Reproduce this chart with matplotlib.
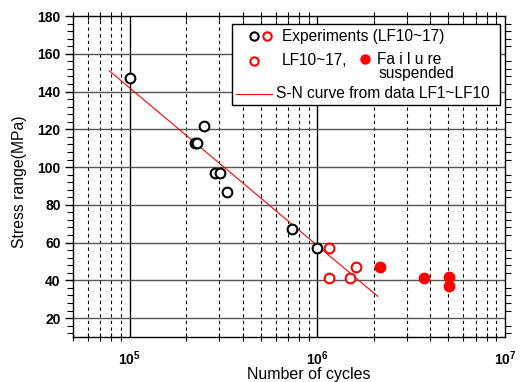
import matplotlib
matplotlib.use("Agg")
import matplotlib.pyplot as plt
from matplotlib.lines import Line2D
from matplotlib.patches import Rectangle
from matplotlib.ticker import FixedLocator, LogLocator, MultipleLocator, NullFormatter

plt.rcParams["font.family"] = ["Liberation Sans", "DejaVu Sans"]
plt.rcParams["mathtext.fontset"] = "custom"
plt.rcParams["mathtext.bf"] = "Liberation Sans:bold"
plt.rcParams["mathtext.rm"] = "Liberation Sans"

W, H = 523, 382

# experiments (black open circles)
exp_cycles = [1.0e5, 2.22e5, 2.3e5, 2.5e5, 2.87e5, 3.05e5, 3.3e5, 7.3e5, 1.0e6]
exp_stress = [147, 113, 113, 122, 97, 97, 87, 67, 57]
# LF10~17 failure (red open circles)
red_open_cycles = [1.15e6, 1.16e6, 1.5e6, 1.6e6]
red_open_stress = [57, 41.5, 41.5, 47]
# LF10~17 suspended (red filled)
suspended_cycles = [2.16e6, 3.7e6, 5.05e6, 5.05e6]
suspended_stress = [47, 41.5, 42, 37]
# S-N curve end points
sn_cycles = [7.8e4, 2.1e6]
sn_stress = [151, 31.5]

y_ticks = [20, 40, 60, 80, 100, 120, 140, 160, 180]
x_ticks = [1e5, 1e6, 1e7]
x_tick_labels = [r"$\mathbf{10^{5}}$", r"$\mathbf{10^{6}}$", r"$\mathbf{10^{7}}$"]


def fx(px):
    return px / W


def fy(py):
    return 1 - py / H


fig = plt.figure(figsize=(W / 100, H / 100), dpi=100)
ax = fig.add_axes([fx(73), fy(337), fx(505) - fx(73), fy(16) - fy(337)])
ax.set_xscale("log")
ax.set_xlim(5e4, 1e7)
ax.set_ylim(10, 180)

# grid
minor_x = [m * 10 ** d for d in (4, 5, 6) for m in range(2, 10) if 5e4 < m * 10 ** d < 1e7]
for xv in minor_x:
    ax.axvline(xv, color="black", lw=0.8, ls=(0, (3, 3)), zorder=1)
for xv in x_ticks[:2]:
    ax.axvline(xv, color="black", lw=1.0, zorder=1)
for yv in y_ticks[:-1]:
    ax.axhline(yv, color="#555555", lw=1.0, zorder=1)

ax.plot(sn_cycles, sn_stress, color="red", lw=0.8, zorder=2)
ax.plot(exp_cycles, exp_stress, ls="none", marker="o", ms=7, mfc="white",
        mec="black", mew=1.5, zorder=3)
ax.plot(red_open_cycles, red_open_stress, ls="none", marker="o", ms=7, mfc="white",
        mec="red", mew=1.5, zorder=3)
ax.plot(suspended_cycles, suspended_stress, ls="none", marker="o", ms=7, mfc="red",
        mec="red", mew=1.5, zorder=3)

ax.xaxis.set_major_locator(FixedLocator(x_ticks))
ax.set_xticklabels(x_tick_labels, fontsize=10)
ax.xaxis.set_minor_locator(LogLocator(base=10, subs=range(2, 10)))
ax.xaxis.set_minor_formatter(NullFormatter())
ax.yaxis.set_major_locator(FixedLocator(y_ticks))
ax.set_yticklabels([str(v) for v in y_ticks], fontsize=10, fontweight="bold")
ax.yaxis.set_minor_locator(MultipleLocator(4))

ax.tick_params(axis="x", which="major", length=0, pad=9)
ax.tick_params(axis="x", which="minor", direction="inout", length=6, width=0.8, top=True)
ax.tick_params(axis="y", which="major", direction="out", length=6, width=1, pad=3)
ax.tick_params(axis="y", which="minor", direction="out", length=4, width=0.8, right=True)
for sp in ax.spines.values():
    sp.set_linewidth(1.0)

fig.text(fx(20), fy(182), "Stress range(MPa)", rotation=90, ha="center", va="center",
         fontsize=11.3)
fig.text(fx(309), fy(374), "Number of cycles", ha="center", va="center", fontsize=11.5)

# legend drawn by hand
fig.add_artist(Rectangle((fx(232), fy(105)), fx(500) - fx(232), fy(24) - fy(105),
                         transform=fig.transFigure, facecolor="white",
                         edgecolor="black", lw=1.0, zorder=5))


def legend_marker(px, py, face, edge):
    fig.add_artist(Line2D([fx(px)], [fy(py)], transform=fig.transFigure, marker="o",
                          ms=6, mfc=face, mec=edge, mew=1.5, zorder=6))


legend_marker(253.7, 36.3, "white", "black")
legend_marker(267.3, 36.3, "white", "red")
legend_marker(253.7, 60.7, "white", "red")
legend_marker(365, 59.3, "red", "red")
fig.add_artist(Line2D([fx(235.7), fx(271.7)], [fy(94), fy(94)], transform=fig.transFigure,
                      color="red", lw=0.8, zorder=6))

fs = 11.2
fig.text(fx(282), fy(36.3), "Experiments (LF10~17)", va="center", fontsize=fs, zorder=7)
fig.text(fx(282), fy(60.5), "LF10~17,", va="center", fontsize=fs, zorder=7)
fig.text(fx(376.7), fy(59), "Fa i l u re", va="center", fontsize=fs, zorder=7)
fig.text(fx(379), fy(73.3), "suspended", va="center", fontsize=fs, zorder=7)
fig.text(fx(275.7), fy(94), "S-N curve from data LF1~LF10", va="center", fontsize=fs,
         zorder=7)

fig.savefig("out.png", dpi=100)
